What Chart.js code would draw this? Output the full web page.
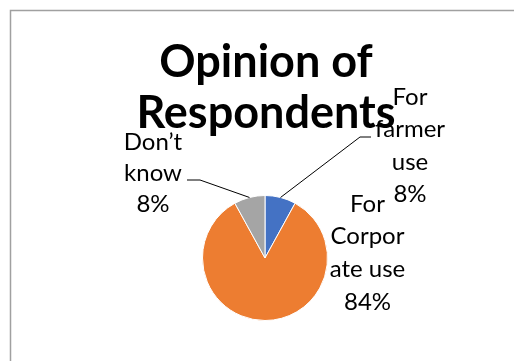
<!DOCTYPE html>
<html>
<head>
<meta charset="utf-8">
<script src="https://cdn.jsdelivr.net/npm/chart.js@4"></script>
<style>
  html, body { margin: 0; padding: 0; background: #fff; overflow: hidden; }
  #wrap { width: 514px; height: 361px; position: relative; }
</style>
</head>
<body>
<div id="wrap"><canvas id="c" width="514" height="361"></canvas></div>
<script>
// Survey answers, clockwise from twelve o'clock
const categories = [['For', 'farmer', 'use'], ['For', 'Corpor', 'ate use'], ['Don\u2019t', 'know']];
const shares = [8, 84, 8];
const sliceColors = ['#4472C4', '#ED7D31', '#A5A5A5'];
const titleLines = ['Opinion of', 'Respondents'];

// Label block placement, relative to the pie centre (text centre x, first baseline y)
const labelPlacement = [
  { dx: 145, dy: -153, lh: 32.3, elbow: [[95, -121], [106, -121]] },
  { dx: 102.5, dy: -46.5, lh: 32.7, elbow: null },
  { dx: -112, dy: -108.5, lh: 31, elbow: [[-65, -78], [-78, -78]] }
];

const decorations = {
  id: 'decorations',
  beforeDraw(chart) {
    const ctx = chart.ctx;
    ctx.save();
    ctx.fillStyle = '#fff';
    ctx.fillRect(0, 0, chart.width, chart.height);
    // frame around the chart (top and left edges)
    ctx.strokeStyle = '#A0A0A0';
    ctx.lineWidth = 1.5;
    ctx.beginPath();
    ctx.moveTo(10.5, chart.height);
    ctx.lineTo(10.5, 10.5);
    ctx.lineTo(chart.width, 10.5);
    ctx.stroke();
    ctx.restore();
  },
  afterDraw(chart) {
    const ctx = chart.ctx;
    const arcs = chart.getDatasetMeta(0).data;
    const total = shares.reduce((a, b) => a + b, 0);
    ctx.save();
    arcs.forEach((arc, i) => {
      const { x: cx, y: cy, outerRadius, startAngle, endAngle } = arc.getProps(['x', 'y', 'outerRadius', 'startAngle', 'endAngle'], true);
      const p = labelPlacement[i];
      // leader line from the middle of the slice edge
      if (p.elbow) {
        const mid = (startAngle + endAngle) / 2;
        ctx.strokeStyle = '#000';
        ctx.lineWidth = 1;
        ctx.beginPath();
        ctx.moveTo(cx + Math.cos(mid) * outerRadius, cy + Math.sin(mid) * outerRadius);
        p.elbow.forEach(([ex, ey]) => ctx.lineTo(cx + ex, cy + ey));
        ctx.stroke();
      }
      const lines = categories[i].concat([Math.round(shares[i] / total * 100) + '%']);
      ctx.fillStyle = '#000';
      ctx.font = '24px Lato';
      ctx.textAlign = 'center';
      ctx.textBaseline = 'alphabetic';
      lines.forEach((t, k) => ctx.fillText(t, cx + p.dx, cy + p.dy + k * p.lh));
    });
    // chart title
    const a0 = arcs[0];
    ctx.fillStyle = '#000';
    ctx.font = 'bold 45px Lato';
    ctx.textAlign = 'center';
    titleLines.forEach((t, k) => ctx.fillText(t, a0.x + 1, 77 + k * 51));
    ctx.restore();
  }
};

new Chart(document.getElementById('c'), {
  type: 'pie',
  data: {
    labels: categories,
    datasets: [{
      data: shares,
      backgroundColor: sliceColors,
      borderColor: '#ffffff',
      borderWidth: 1
    }]
  },
  options: {
    responsive: false,
    animation: false,
    layout: { padding: { top: 195, bottom: 40, left: 202, right: 186 } },
    plugins: {
      legend: { display: false },
      tooltip: { enabled: false },
      title: { display: false }
    }
  },
  plugins: [decorations]
});
</script>
</body>
</html>
